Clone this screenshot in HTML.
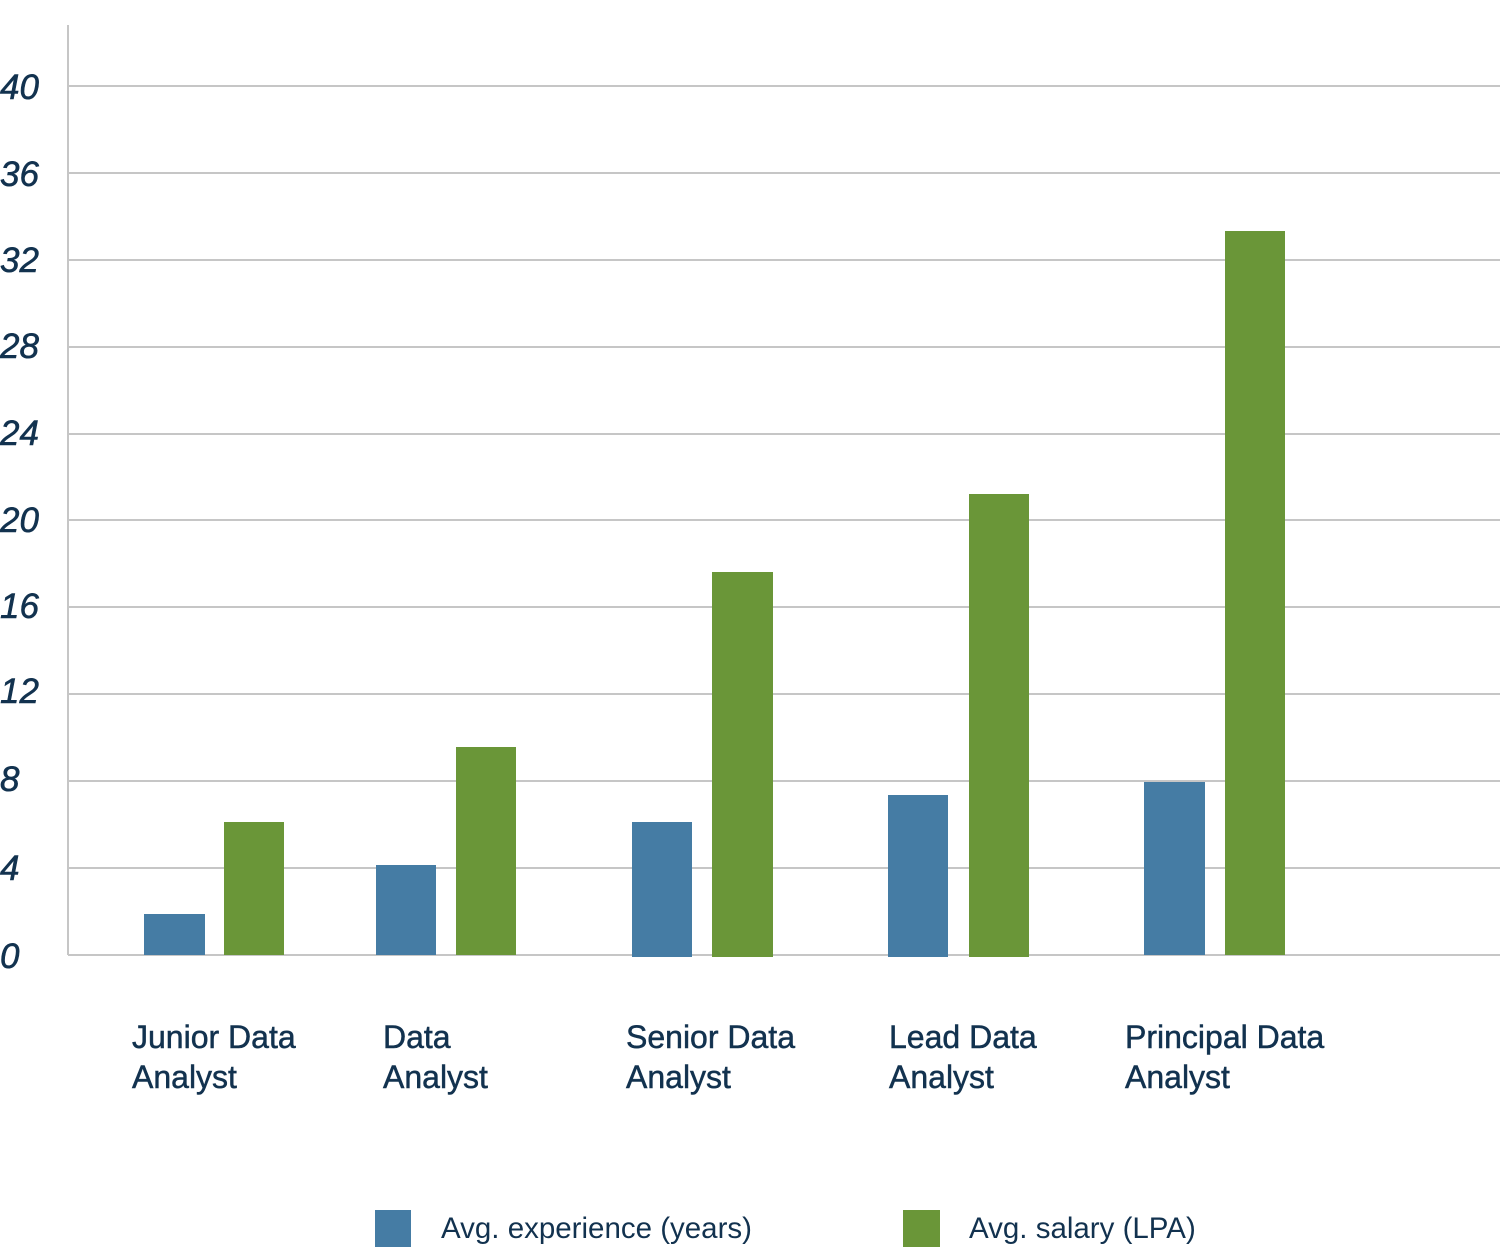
<!DOCTYPE html>
<html><head><style>body{margin:0;background:#fff}svg{display:block}</style></head>
<body>
<svg width="1500" height="1248" xmlns="http://www.w3.org/2000/svg" font-family="Liberation Sans, sans-serif">
<g stroke="#c6c6c6" stroke-width="2">
<line x1="68" y1="86" x2="1500" y2="86"/>
<line x1="68" y1="173" x2="1500" y2="173"/>
<line x1="68" y1="260" x2="1500" y2="260"/>
<line x1="68" y1="347" x2="1500" y2="347"/>
<line x1="68" y1="434" x2="1500" y2="434"/>
<line x1="68" y1="520" x2="1500" y2="520"/>
<line x1="68" y1="607" x2="1500" y2="607"/>
<line x1="68" y1="694" x2="1500" y2="694"/>
<line x1="68" y1="781" x2="1500" y2="781"/>
<line x1="68" y1="868" x2="1500" y2="868"/>
<line x1="68" y1="955" x2="1500" y2="955"/>
<line x1="68" y1="25" x2="68" y2="955"/>
</g>
<g fill="#12324f" font-size="35" font-style="italic" stroke="#12324f" stroke-width="0.6">
<text x="0" y="99">40</text><text x="0" y="186">36</text><text x="0" y="272">32</text>
<text x="0" y="358">28</text><text x="0" y="445">24</text><text x="0" y="532">20</text>
<text x="0" y="618">16</text><text x="0" y="703">12</text><text x="0" y="791">8</text>
<text x="0" y="880">4</text><text x="0" y="968">0</text>
</g>
<g fill="#457ca4">
<rect x="144" y="914" width="61" height="41"/>
<rect x="376" y="865" width="60" height="90"/>
<rect x="632" y="822" width="60" height="135"/>
<rect x="888" y="795" width="60" height="162"/>
<rect x="1144" y="782" width="61" height="173"/>
</g>
<g fill="#6a9638">
<rect x="224" y="822" width="60" height="133"/>
<rect x="456" y="747" width="60" height="208"/>
<rect x="712" y="572" width="61" height="385"/>
<rect x="969" y="494" width="60" height="463"/>
<rect x="1225" y="231" width="60" height="724"/>
</g>
<g fill="#12324f" font-size="32" stroke="#12324f" stroke-width="0.5">
<text x="132" y="1048">Junior Data</text><text x="132" y="1088">Analyst</text>
<text x="383" y="1048">Data</text><text x="383" y="1088">Analyst</text>
<text x="626" y="1048">Senior Data</text><text x="626" y="1088">Analyst</text>
<text x="889" y="1048">Lead Data</text><text x="889" y="1088">Analyst</text>
<text x="1125" y="1048">Principal Data</text><text x="1125" y="1088">Analyst</text>
</g>
<rect x="375" y="1210" width="36" height="37" fill="#457ca4"/>
<rect x="903" y="1210" width="37" height="37" fill="#6a9638"/>
<g fill="#12324f" font-size="29.5">
<text x="441" y="1238">Avg. experience (years)</text>
<text x="969" y="1238">Avg. salary (LPA)</text>
</g>
</svg>
</body></html>
